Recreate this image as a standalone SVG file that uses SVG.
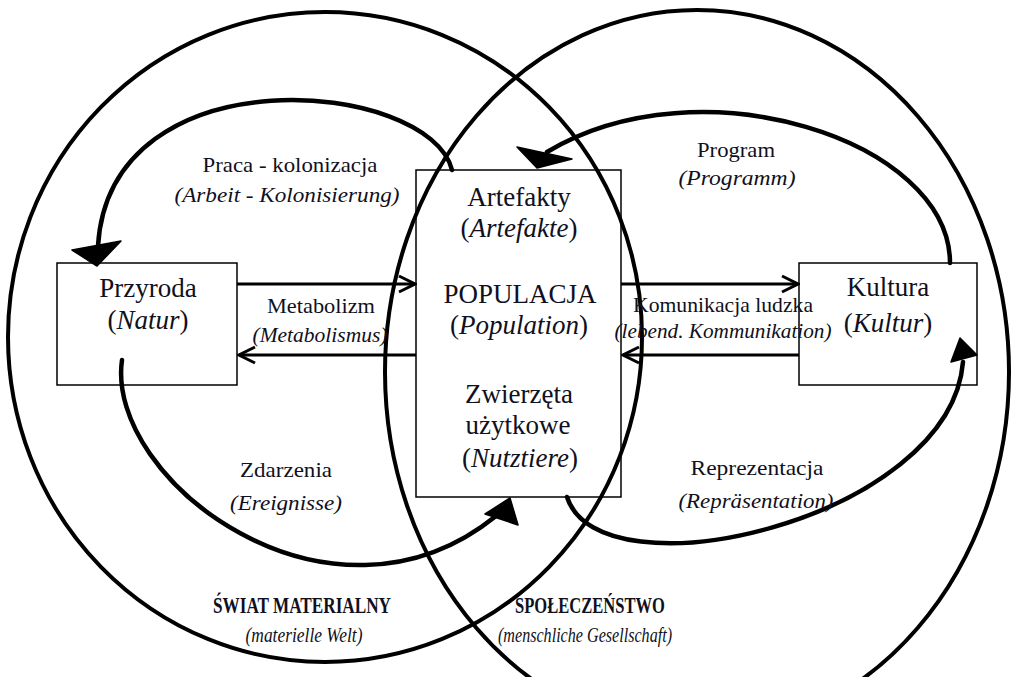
<svg xmlns="http://www.w3.org/2000/svg" width="1017" height="677" viewBox="0 0 1017 677" font-family="'Liberation Serif', 'Times New Roman', serif">
  <style>
    .sphere { fill: none; stroke: #000; stroke-width: 4; }
    .box { fill: none; stroke: #000; stroke-width: 1.5; }
    .flow { fill: none; stroke: #000; stroke-width: 3; }
    .loop { fill: none; stroke: #000; stroke-width: 4.5; stroke-linecap: round; }
    .head { fill: #000; stroke: #000; stroke-width: 1.5; stroke-linejoin: round; }
    text { font-family: 'Liberation Serif', 'Times New Roman', serif; fill: #101020; text-anchor: middle; }
    .node-text { font-size: 27px; }
    .edge-text { font-size: 21px; }
    .it { font-style: italic; }
    .area { font-size: 23px; font-weight: bold; }
    .sub { font-size: 21px; font-style: italic; }
  </style>
  <defs>
    <marker id="chev" viewBox="0 0 20 20" refX="18" refY="10" markerWidth="20" markerHeight="20" markerUnits="userSpaceOnUse" orient="auto">
      <path d="M2,2 L18,10 L2,18" fill="none" stroke="#000" stroke-width="3"/>
    </marker>
  </defs>

  <rect width="1017" height="677" fill="#fff"/>

  <!-- the two spheres -->
  <g id="sphere-material">
    <ellipse class="sphere" cx="325" cy="337" rx="317" ry="325"/>
    <text class="area" x="302" y="613" textLength="178" lengthAdjust="spacingAndGlyphs">ŚWIAT MATERIALNY</text>
    <text class="sub" x="304" y="642" textLength="117" lengthAdjust="spacingAndGlyphs">(materielle Welt)</text>
  </g>
  <g id="sphere-society">
    <ellipse class="sphere" cx="697" cy="372" rx="312" ry="362"/>
    <text class="area" x="590" y="613" textLength="150" lengthAdjust="spacingAndGlyphs">SPOŁECZEŃSTWO</text>
    <text class="sub" x="585" y="642" textLength="174" lengthAdjust="spacingAndGlyphs">(menschliche Gesellschaft)</text>
  </g>

  <!-- nodes -->
  <g id="node-przyroda">
    <rect class="box" x="57" y="263" width="180" height="122"/>
    <text class="node-text" x="148" y="297">Przyroda</text>
    <text class="node-text" x="148" y="329">(<tspan class="it">Natur</tspan>)</text>
  </g>
  <g id="node-populacja">
    <rect class="box" x="416" y="170" width="205" height="327"/>
    <text class="node-text" x="519" y="206">Artefakty</text>
    <text class="node-text" x="519" y="237">(<tspan class="it">Artefakte</tspan>)</text>
    <text class="node-text" x="520" y="303">POPULACJA</text>
    <text class="node-text" x="519" y="334">(<tspan class="it">Population</tspan>)</text>
    <text class="node-text" x="519" y="403">Zwierzęta</text>
    <text class="node-text" x="518" y="434">użytkowe</text>
    <text class="node-text" x="520" y="467">(<tspan class="it">Nutztiere</tspan>)</text>
  </g>
  <g id="node-kultura">
    <rect class="box" x="799" y="263" width="178" height="122"/>
    <text class="node-text" x="888" y="296">Kultura</text>
    <text class="node-text" x="888" y="332">(<tspan class="it">Kultur</tspan>)</text>
  </g>

  <!-- connectors -->
  <g id="connectors">
    <!-- metabolism -->
    <line class="flow" x1="237" y1="284" x2="415" y2="284" marker-end="url(#chev)"/>
    <line class="flow" x1="416" y1="355" x2="239" y2="355" marker-end="url(#chev)"/>
    <!-- communication -->
    <line class="flow" x1="621" y1="284" x2="798" y2="284" marker-end="url(#chev)"/>
    <line class="flow" x1="799" y1="355" x2="623" y2="355" marker-end="url(#chev)"/>

    <!-- labour / colonisation -->
    <path class="loop" d="M452,170 C430,80 110,50 98,246"/>
    <polygon class="head" points="72,250 121,241 97,266"/>
    <!-- programme -->
    <path class="loop" d="M950,263 C950,140 700,60 547,152"/>
    <polygon class="head" points="517,147 572,159 537,168"/>
    <!-- events -->
    <path class="loop" d="M122,360 C105,480 330,650 496,516"/>
    <polygon class="head" points="485,514 510,498 518,525"/>
    <!-- representation -->
    <path class="loop" d="M567,497 C600,600 950,520 963,362"/>
    <polygon class="head" points="951,362 960,338 977,355"/>

    <text class="edge-text" x="290" y="172" textLength="175" lengthAdjust="spacingAndGlyphs">Praca - kolonizacja</text>
    <text class="edge-text it" x="287" y="202" textLength="225" lengthAdjust="spacingAndGlyphs">(Arbeit - Kolonisierung)</text>
    <text class="edge-text" x="321" y="313" textLength="108" lengthAdjust="spacingAndGlyphs">Metabolizm</text>
    <text class="edge-text it" x="320" y="342" textLength="135" lengthAdjust="spacingAndGlyphs">(Metabolismus)</text>
    <text class="edge-text" x="723" y="312" textLength="180" lengthAdjust="spacingAndGlyphs">Komunikacja ludzka</text>
    <text class="edge-text it" x="723" y="338" textLength="217" lengthAdjust="spacingAndGlyphs">(lebend. Kommunikation)</text>
    <text class="edge-text" x="736" y="157" textLength="78" lengthAdjust="spacingAndGlyphs">Program</text>
    <text class="edge-text it" x="737" y="185" textLength="117" lengthAdjust="spacingAndGlyphs">(Programm)</text>
    <text class="edge-text" x="286" y="477" textLength="92" lengthAdjust="spacingAndGlyphs">Zdarzenia</text>
    <text class="edge-text it" x="286" y="510" textLength="112" lengthAdjust="spacingAndGlyphs">(Ereignisse)</text>
    <text class="edge-text" x="757" y="475" textLength="133" lengthAdjust="spacingAndGlyphs">Reprezentacja</text>
    <text class="edge-text it" x="756" y="508" textLength="155" lengthAdjust="spacingAndGlyphs">(Repräsentation)</text>
  </g>
</svg>
